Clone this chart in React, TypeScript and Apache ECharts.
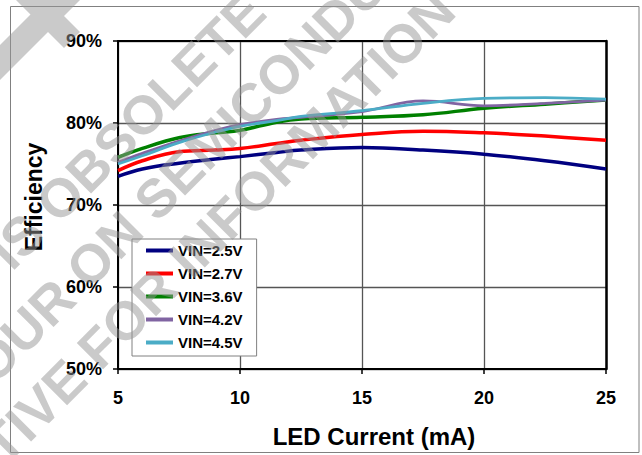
import React, { useEffect, useRef } from "react";
import * as echarts from "echarts";

// LED current (mA) at which each efficiency value was taken
const currents = [5, 6, 7.5, 9, 10, 11.5, 12.5, 15, 17.5, 20, 22.5, 25];

// Efficiency (%) per supply voltage
const vin25 = [73.5, 74.4, 75.1, 75.6, 75.9, 76.4, 76.7, 77.0, 76.7, 76.2, 75.4, 74.4];
const vin27 = [74.2, 75.4, 76.5, 76.7, 76.9, 77.5, 77.9, 78.6, 79.0, 78.8, 78.4, 77.9];
const vin36 = [75.8, 76.9, 78.2, 78.8, 79.1, 80.1, 80.5, 80.7, 81.0, 81.8, 82.3, 82.8];
const vin42 = [75.2, 76.3, 77.8, 79.1, 79.8, 80.45, 80.7, 81.4, 82.7, 82.1, 82.4, 82.8];
const vin45 = [75.0, 76.0, 77.6, 78.9, 79.6, 80.3, 80.8, 81.5, 82.4, 83.0, 83.1, 82.9];

const seriesNames = ["VIN=2.5V", "VIN=2.7V", "VIN=3.6V", "VIN=4.2V", "VIN=4.5V"];
const seriesColors = ["#000080", "#FF0000", "#008000", "#8064A2", "#4BACC6"];
const seriesWidths = [3.5, 3.5, 3.5, 2.8, 2.8];

const xTicks = [5, 10, 15, 20, 25];
const yTicks = [50, 60, 70, 80, 90];

const xTitle = "LED Current (mA)";
const yTitle = "Efficiency";

// Diagonal "obsolete" stamp, laid out in a frame rotated by 45 degrees
const watermarkLines = [
  { text: "THIS PRODUCT IS", align: "right", u: -133, v: 182 },
  { text: "OBSOLETE", align: "left", u: -118, v: 182 },
  { text: "CONTACT YOUR ON", align: "right", u: -62, v: 250 },
  { text: "SEMICONDUCTOR", align: "left", u: -47, v: 250 },
  { text: "REPRESENTATIVE FOR INFORMATION", align: "right", u: 314, v: 315 },
];
const WATERMARK_FILL = "rgba(150,150,150,0.5)";

const FONT = "'Liberation Sans', Arial, Helvetica, sans-serif";

export default function App() {
  const ref = useRef<HTMLDivElement>(null);

  useEffect(() => {
    if (!ref.current) return;
    const chart = echarts.init(ref.current, undefined, { renderer: "svg" });
    const columns = [vin25, vin27, vin36, vin42, vin45];

    const option: any = {
      animation: false,
      backgroundColor: "#ffffff",
      grid: { left: 118, top: 41, width: 488, height: 328, containLabel: false },
      legend: {
        orient: "vertical",
        left: 132,
        top: 239,
        padding: [4, 14, 6, 14],
        itemWidth: 27,
        itemHeight: 4,
        itemGap: 8,
        icon: "rect",
        borderColor: "#808080",
        borderWidth: 1,
        backgroundColor: "#ffffff",
        textStyle: { fontFamily: FONT, fontWeight: "bold", fontSize: 15, lineHeight: 15, color: "#000" },
        data: seriesNames,
      },
      xAxis: [
        {
          type: "value",
          min: xTicks[0],
          max: xTicks[xTicks.length - 1],
          interval: 5,
          axisLine: { show: true, onZero: false, lineStyle: { color: "#000", width: 2 } },
          axisTick: { show: true, inside: false, length: 5, lineStyle: { color: "#000", width: 1.5 } },
          axisLabel: { margin: 20, fontFamily: FONT, fontWeight: "bold", fontSize: 18, color: "#000" },
          splitLine: { show: true, lineStyle: { color: "#555", width: 1.3 } },
        },
        {
          type: "value",
          position: "top",
          min: xTicks[0],
          max: xTicks[xTicks.length - 1],
          interval: 5,
          axisLine: { show: true, onZero: false, lineStyle: { color: "#000", width: 2 } },
          axisTick: { show: false },
          axisLabel: { show: false },
          splitLine: { show: false },
        },
      ],
      yAxis: [
        {
          type: "value",
          min: yTicks[0],
          max: yTicks[yTicks.length - 1],
          interval: 10,
          axisLine: { show: true, onZero: false, lineStyle: { color: "#000", width: 2 } },
          axisTick: { show: true, inside: false, length: 5, lineStyle: { color: "#000", width: 1.5 } },
          axisLabel: {
            margin: 16,
            formatter: "{value}%",
            fontFamily: FONT,
            fontWeight: "bold",
            fontSize: 18,
            color: "#000",
          },
          splitLine: { show: true, lineStyle: { color: "#555", width: 1.3 } },
        },
        {
          type: "value",
          position: "right",
          min: yTicks[0],
          max: yTicks[yTicks.length - 1],
          interval: 10,
          axisLine: { show: true, onZero: false, lineStyle: { color: "#000", width: 2.5 } },
          axisTick: { show: false },
          axisLabel: { show: false },
          splitLine: { show: false },
        },
      ],
      series: columns.map((vals, i) => ({
        name: seriesNames[i],
        type: "line",
        xAxisIndex: 0,
        yAxisIndex: 0,
        data: currents.map((c, j) => [c, vals[j]]),
        smooth: 0.4,
        showSymbol: false,
        symbol: "none",
        color: seriesColors[i],
        lineStyle: { color: seriesColors[i], width: seriesWidths[i] },
        z: 3 + i,
      })),
      graphic: [
        {
          type: "rect",
          z: 0,
          shape: { x: 10.5, y: 6.5, width: 628.5, height: 446 },
          style: { fill: "none", stroke: "#808080", lineWidth: 1 },
        },
        {
          type: "text",
          x: 374,
          y: 436,
          style: {
            text: xTitle,
            font: `bold 24px ${FONT}`,
            fill: "#000",
            textAlign: "center",
            textVerticalAlign: "middle",
          },
        },
        {
          type: "text",
          x: 34,
          y: 197,
          rotation: Math.PI / 2,
          style: {
            text: yTitle,
            font: `bold 23px ${FONT}`,
            fill: "#000",
            textAlign: "center",
            textVerticalAlign: "middle",
          },
        },
        // fragment of a stamp letter clipped by the top-left corner
        {
          type: "polygon",
          z: 100,
          silent: true,
          shape: {
            points: [
              [0, 45], [30.5, 14.5], [16, 0], [80, 0], [64, 16],
              [80, 32], [64, 48], [48, 32], [0, 80],
            ],
          },
          style: { fill: WATERMARK_FILL },
        },
        {
          type: "group",
          x: 0,
          y: 0,
          rotation: Math.PI / 4,
          z: 100,
          silent: true,
          children: watermarkLines.map((w) => ({
            type: "text",
            x: w.u,
            y: w.v,
            z: 100,
            style: {
              text: w.text,
              font: `bold 54px ${FONT}`,
              fill: WATERMARK_FILL,
              textAlign: w.align,
              textVerticalAlign: "middle",
            },
          })),
        },
      ],
    };

    chart.setOption(option);
    return () => chart.dispose();
  }, []);

  return (
    <div
      ref={ref}
      style={{ position: "fixed", left: 0, top: 0, width: 642, height: 455, background: "#fff" }}
    />
  );
}
